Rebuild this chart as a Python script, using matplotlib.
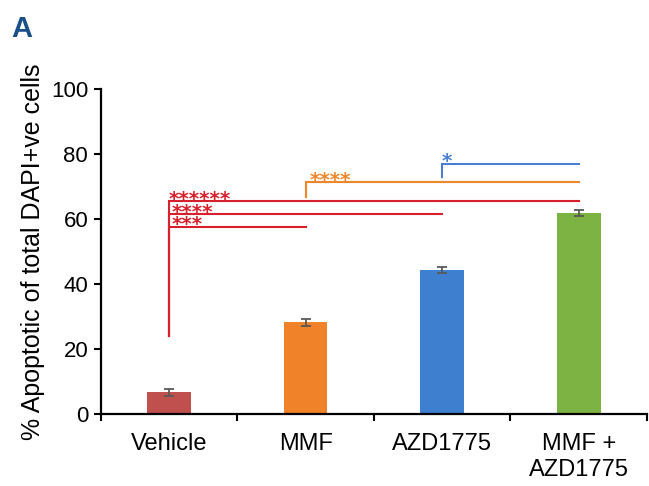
import matplotlib
matplotlib.use("Agg")
import matplotlib.pyplot as plt

plt.rcParams['font.family'] = ['Liberation Sans', 'DejaVu Sans']

categories = ["Vehicle", "MMF", "AZD1775", "MMF +\nAZD1775"]
values = [6.7, 28.2, 44.3, 61.9]
errors = [1.1, 1.0, 1.0, 1.0]
bar_colors = ["#c0504d", "#f0822a", "#3f7fcf", "#7cb342"]
yticks = [0, 20, 40, 60, 80, 100]

# significance brackets: (start category, end category, level, drop-bottom, colour)
brackets = [
    (0, 1, 57.6, 24.0, "#d7202b"),
    (0, 2, 61.5, 24.0, "#d7202b"),
    (0, 3, 65.4, 24.0, "#d7202b"),
    (1, 3, 71.3, 66.9, "#f0862c"),
    (2, 3, 77.0, 73.0, "#4a7fd0"),
]
# star labels: (x, star-centre level, text, colour)
stars = [
    (0.0, 67.6, "******", "#d7202b"),
    (0.02, 63.7, "****", "#d7202b"),
    (0.02, 59.8, "***", "#d7202b"),
    (1.03, 73.3, "****", "#f0862c"),
    (2.0, 79.2, "*", "#4a7fd0"),
]

fig = plt.figure(figsize=(6.49, 4.86), dpi=100)
ax = fig.add_axes([0.1552, 0.1481, 0.8417, 0.6688])

x = list(range(len(categories)))
ax.bar(x, values, width=0.32, color=bar_colors, zorder=2)
ax.errorbar(x, values, yerr=errors, fmt='none', ecolor='#595959',
            elinewidth=1.3, capsize=3.5, capthick=1.3, zorder=3)

for s, e, lvl, bottom, col in brackets:
    ax.plot([s, s, e], [bottom, lvl, lvl], color=col, lw=1.5,
            solid_joinstyle='miter', zorder=4)

for sx, lvl, lab, col in stars:
    ax.text(sx, lvl - 3.3, lab, color=col, fontsize=14.5, fontweight='bold',
            family='DejaVu Sans', ha='left', va='baseline')

ax.set_xlim(-0.5, 3.5)
ax.set_ylim(0, 100)
ax.set_yticks(yticks)
ax.set_yticklabels([str(t) for t in yticks], fontsize=16)

ax.set_xticks([-0.5, 0.5, 1.5, 2.5, 3.5])
ax.set_xticklabels([])
ax.set_xticks(x, minor=True)
ax.set_xticklabels(categories, minor=True, fontsize=17, va='top')
ax.tick_params(axis='x', which='minor', length=0, pad=14)
ax.tick_params(axis='x', which='major', length=5, width=1.5, direction='out')
ax.tick_params(axis='y', length=5, width=1.5, direction='out', pad=4)

for sp in ['top', 'right']:
    ax.spines[sp].set_visible(False)
for sp in ['left', 'bottom']:
    ax.spines[sp].set_linewidth(1.6)

ax.set_ylabel("% Apoptotic of total DAPI+ve cells", fontsize=18, labelpad=4)

fig.text(0.018, 0.923, "A", color="#1b4f8a", fontsize=21, fontweight='heavy',
         ha='left', va='baseline')

fig.savefig("out.png", dpi=100)
